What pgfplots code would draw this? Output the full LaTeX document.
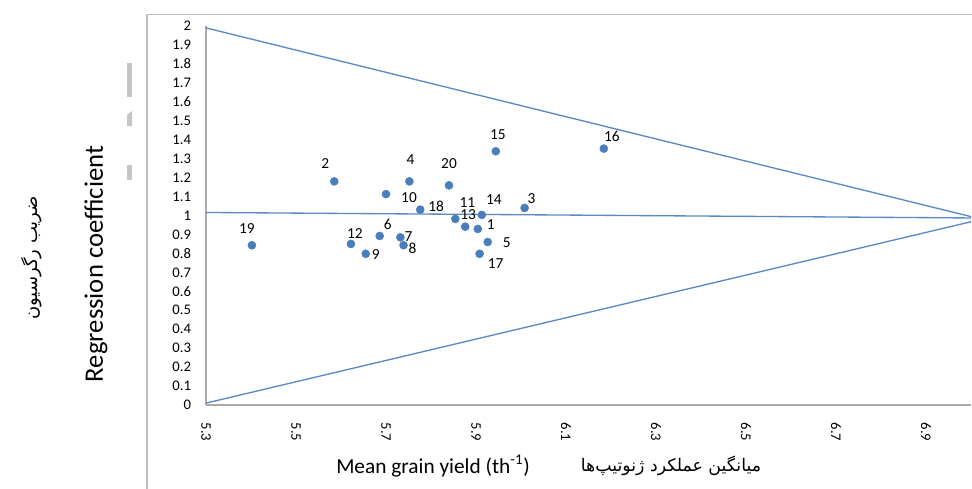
\documentclass[border=0pt]{standalone}
\usepackage{pgfplots}
\pgfplotsset{compat=1.18}
\usepackage{pgfplotstable}
\usepackage{fontspec}
\setmainfont{Carlito}
\newfontfamily\arabicfont[Script=Arabic]{DejaVu Sans}
\TeXXeTstate=1
\definecolor{pblue}{RGB}{74,126,187}
\definecolor{lblue}{RGB}{90,138,196}
\definecolor{axgray}{RGB}{170,170,170}
\definecolor{bordgray}{RGB}{190,190,190}

\pgfplotstableread{
lab x y dx dy
19 5.402 0.843 -5 17
2 5.585 1.180 -9 18
12 5.622 0.850 4 10
9 5.655 0.798 10 -1
6 5.686 0.892 8 12
10 5.700 1.113 23 -3
7 5.732 0.885 8 1
8 5.739 0.843 9 -3
4 5.752 1.180 1 22
18 5.776 1.031 16 3
20 5.840 1.159 0 22
11 5.854 0.982 12 16
13 5.876 0.941 3 12
14 5.913 1.003 12 15
1 5.904 0.929 13 4
5 5.926 0.860 19 -1
17 5.908 0.798 16 -10
15 5.944 1.339 2 17
3 6.008 1.040 7 9
16 6.184 1.353 8 12
}\genotypes

\begin{document}
\begin{tikzpicture}
\begin{scope}[x=0.75pt,y=-0.75pt]
\useasboundingbox (0,0) rectangle (972,489);
% outer chart border
\draw[bordgray, line width=1.3pt] (147,489) -- (147,14.5) -- (972,14.5);
% gray artefacts
\fill[gray!45] (127,63) rectangle (132,97);
\fill[gray!45] (127,115) -- (132,111) -- (132,126) -- (127,126) -- cycle;
\fill[gray!45] (127,165) rectangle (132,180);
\node[rotate=90, font=\fontsize{20}{22}\selectfont] at (96,264) {Regression coefficient};
\node[rotate=90, font=\arabicfont\fontsize{13.5}{15}\selectfont] at (32,258) {\beginR ضریب رگرسیون\endR};
\node[font=\fontsize{16}{18}\selectfont] at (433,466) {Mean grain yield (th\textsuperscript{-1})};
\node[font=\arabicfont\fontsize{13}{15}\selectfont] at (671,466) {\beginR میانگین عملکرد ژنوتیپ‌ها\endR};
\end{scope}

\begin{axis}[
  at={(154.5pt,-303.75pt)}, anchor=south west,
  scale only axis,
  width=573.75pt, height=284.25pt,
  xmin=5.3, xmax=7.0, ymin=0, ymax=2,
  axis x line=bottom, axis y line=left,
  axis line style={axgray, line width=0.9pt, -},
  xtick={5.3,5.5,5.7,5.9,6.1,6.3,6.5,6.7,6.9},
  ytick={0,0.1,...,2.01},
  major tick length=0pt,
  /pgf/number format/assume math mode=true,
  /pgf/number format/fixed,
  /pgf/number format/precision=1,
  ticklabel style={font=\fontsize{11}{12}\selectfont, text=black},
  yticklabel style={anchor=east, inner sep=0pt},
  yticklabel shift={11pt},
  xticklabel style={rotate=-90, anchor=west, inner sep=0pt},
  xticklabel shift={13pt},
  clip=false,
]
\addplot[lblue, line width=1pt] coordinates {(5.3,1.99) (7.0,0.994)};
\addplot[lblue, line width=1pt] coordinates {(5.3,1.016) (7.0,0.987)};
\addplot[lblue, line width=1pt] coordinates {(5.3,0.01) (7.0,0.967)};
\addplot[only marks, mark=*, mark size=3pt, color=pblue,
  point meta=explicit symbolic,
  nodes near coords,
  visualization depends on={\thisrow{dx}\as\ddx},
  visualization depends on={\thisrow{dy}\as\ddy},
  every node near coord/.append style={anchor=center, inner sep=0pt,
     xshift=\ddx*0.75pt, yshift=\ddy*0.75pt,
     font=\fontsize{11.5}{12}\selectfont, text=black}]
  table[x=x, y=y, meta=lab]{\genotypes};
\end{axis}
\end{tikzpicture}
\end{document}
